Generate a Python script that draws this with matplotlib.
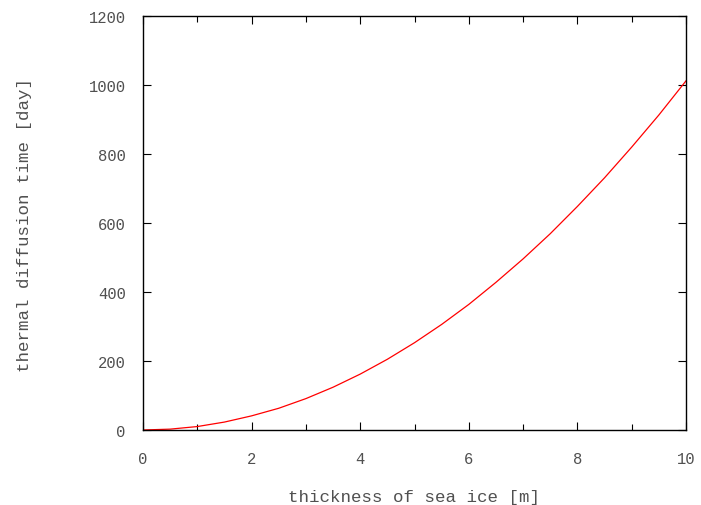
import matplotlib
matplotlib.use("Agg")
import matplotlib.pyplot as plt
from matplotlib.ticker import MultipleLocator

# thickness [m] vs diffusion time [day]
thickness = [0, 0.5, 1, 1.5, 2, 2.5, 3, 3.5, 4, 4.5, 5,
             5.5, 6, 6.5, 7, 7.5, 8, 8.5, 9, 9.5, 10]
days = [0, 2.5, 10, 23, 41, 63, 91, 124, 162, 205, 253,
        306, 364, 428, 496, 569, 648, 731, 820, 913, 1012]

plt.rcParams['font.family'] = ['Liberation Mono', 'DejaVu Sans Mono']
txt = '#505050'

fig = plt.figure(figsize=(7.01, 5.06), dpi=100)
ax = fig.add_axes([143 / 701, 75 / 506, 543 / 701, 414 / 506])
ax.plot(thickness, days, color='red', lw=0.9)
ax.set_xlim(0, 10)
ax.set_ylim(0, 1200)
ax.xaxis.set_major_locator(MultipleLocator(2))
ax.xaxis.set_minor_locator(MultipleLocator(1))
ax.yaxis.set_major_locator(MultipleLocator(200))
ax.tick_params(which='both', direction='in', top=True, right=True,
               labelsize=11.2, labelcolor=txt, width=0.8)
ax.tick_params(which='major', length=6)
ax.tick_params(which='minor', length=4)
ax.tick_params(axis='x', which='major', pad=15)
ax.tick_params(axis='y', which='major', pad=12.5)
for s in ax.spines.values():
    s.set_linewidth(1.0)
ax.set_xlabel('thickness of sea ice [m]', fontsize=12.6, color=txt)
ax.set_ylabel('thermal diffusion time [day]', fontsize=12.6, color=txt)
ax.xaxis.set_label_coords(0.5, -0.1425)
ax.yaxis.set_label_coords(-0.205, 0.497)
fig.savefig('out.png', dpi=100)
